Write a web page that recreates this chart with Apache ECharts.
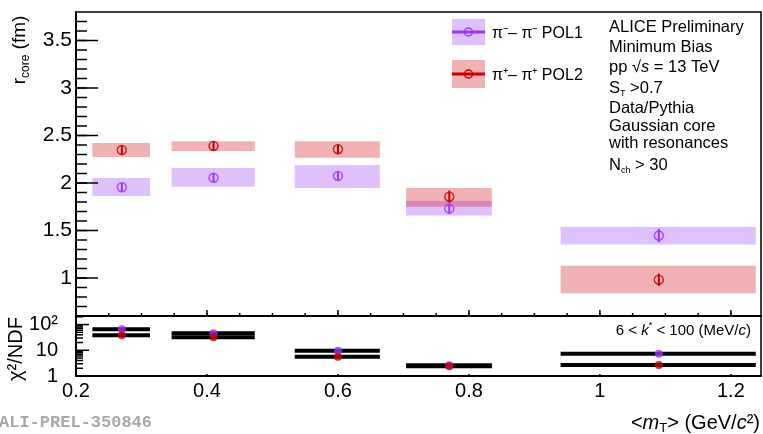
<!DOCTYPE html>
<html><head><meta charset="utf-8">
<script src="https://cdn.jsdelivr.net/npm/echarts@6/dist/echarts.min.js"></script>
<style>html,body{margin:0;padding:0;background:#fff}#c{width:763px;height:434px}</style>
</head><body><div id="c"></div>
<script>
// ---- data ----
const binLow  = [0.225, 0.346, 0.534, 0.704, 0.940];
const binHigh = [0.313, 0.473, 0.664, 0.835, 1.238];
const mT      = [0.27, 0.41, 0.60, 0.77, 1.09];
const rPol1        = [1.955, 2.056, 2.074, 1.730, 1.447];
const rPol1Stat    = [0.045, 0.045, 0.045, 0.050, 0.070];
const rPol1SysLow  = [1.864, 1.961, 1.948, 1.657, 1.353];
const rPol1SysHigh = [2.052, 2.157, 2.189, 1.811, 1.538];
const rPol2        = [2.347, 2.390, 2.356, 1.856, 0.982];
const rPol2Stat    = [0.050, 0.050, 0.050, 0.063, 0.065];
const rPol2SysLow  = [2.273, 2.336, 2.265, 1.751, 0.839];
const rPol2SysHigh = [2.420, 2.440, 2.440, 1.948, 1.129];
const chi2Pol1 = [65, 45.5, 9.6, 2.6, 7.3];
const chi2Pol2 = [38, 31.8, 5.6, 2.4, 2.7];
const legendNames = ['π⁻– π⁻ POL1', 'π⁺– π⁺ POL2'];
// ---- tick values ----
const topYMinorTicks = [0.7,0.8,0.9,1.0,1.1,1.2,1.3,1.4,1.5,1.6,1.7,1.8,1.9,2.0,2.1,2.2,2.3,2.4,2.5,2.6,2.7,2.8,2.9,3.0,3.1,3.2,3.3,3.4,3.5,3.6,3.7];
const topYMajorTicks = [1, 1.5, 2, 2.5, 3, 3.5];
const topXMinorTicks = [0.25,0.3,0.35,0.4,0.45,0.5,0.55,0.6,0.65,0.7,0.75,0.8,0.85,0.9,0.95,1.0,1.05,1.1,1.15,1.2];
const topXMajorTicks = [0.4, 0.6, 0.8, 1.0, 1.2];
const lowXTicks = [0.4, 0.6, 0.8, 1.0, 1.2];
const chi2MajorTicks = [10, 100];
const chi2MinorTicks = [2,3,4,5,6,7,8,9,20,30,40,50,60,70,80,90,200];

const PURPLE = '#9933ff', RED = '#cc0000';
const PURPLE_A = 'rgba(153,51,255,0.3)', RED_A = 'rgba(204,0,0,0.3)';
const FONT = 'Liberation Sans, Arial, Helvetica, sans-serif';
const X_MIN = 0.2, X_MAX = 1.246, Y_MIN = 0.6, Y_MAX = 3.8, C_MIN = 1, C_MAX = 215;

const chart = echarts.init(document.getElementById('c'), null, {renderer: 'canvas'});

function boxSeries(lo, hi, color) {
  return {
    type: 'custom', xAxisIndex: 0, yAxisIndex: 0, silent: true,
    data: binLow.map((x, i) => [binLow[i], binHigh[i], lo[i], hi[i]]),
    encode: {x: [0, 1], y: [2, 3]},
    renderItem: (p, api) => {
      const a = api.coord([api.value(0), api.value(3)]);
      const b = api.coord([api.value(1), api.value(2)]);
      return {type: 'rect', shape: {x: a[0], y: a[1], width: b[0] - a[0], height: b[1] - a[1]}, style: {fill: color}};
    }
  };
}
function errSeries(v, e, color) {
  return {
    type: 'custom', xAxisIndex: 0, yAxisIndex: 0, silent: true,
    data: mT.map((x, i) => [x, v[i], e[i]]),
    encode: {x: 0, y: 1},
    renderItem: (p, api) => {
      const a = api.coord([api.value(0), api.value(1) - api.value(2)]);
      const b = api.coord([api.value(0), api.value(1) + api.value(2)]);
      return {type: 'line', shape: {x1: a[0], y1: a[1], x2: b[0], y2: b[1]}, style: {stroke: color, lineWidth: 2}};
    }
  };
}
function pointSeries(v, color) {
  return {
    type: 'scatter', xAxisIndex: 0, yAxisIndex: 0, silent: true,
    data: mT.map((x, i) => [x, v[i]]),
    symbol: 'circle', symbolSize: 9,
    itemStyle: {color: 'transparent', borderColor: color, borderWidth: 1.5}
  };
}
function chiLineSeries(v) {
  return {
    type: 'custom', xAxisIndex: 1, yAxisIndex: 1, silent: true,
    data: binLow.map((x, i) => [binLow[i], binHigh[i], v[i]]),
    encode: {x: [0, 1], y: 2},
    renderItem: (p, api) => {
      const a = api.coord([api.value(0), api.value(2)]);
      const b = api.coord([api.value(1), api.value(2)]);
      return {type: 'line', shape: {x1: a[0], y1: a[1], x2: b[0], y2: b[1]}, style: {stroke: '#000', lineWidth: 4}};
    }
  };
}
function chiDotSeries(v, color) {
  return {
    type: 'scatter', xAxisIndex: 1, yAxisIndex: 1, silent: true,
    data: mT.map((x, i) => [x, v[i]]),
    symbol: 'circle', symbolSize: 8, itemStyle: {color: color}
  };
}
// axis tick marks, placed through the axes' own scales
function yTickSeries(axisIdx, xmin, vals, len) {
  return {
    type: 'custom', xAxisIndex: axisIdx, yAxisIndex: axisIdx, silent: true, z: 6, clip: false,
    data: vals.map(v => [xmin, v]), encode: {x: 0, y: 1},
    renderItem: (p, api) => {
      const a = api.coord([api.value(0), api.value(1)]);
      return {type: 'line', shape: {x1: a[0], y1: a[1], x2: a[0] + len, y2: a[1]}, style: {stroke: '#000', lineWidth: 1.5}};
    }
  };
}
function xTickSeries(axisIdx, ymin, vals, len) {
  return {
    type: 'custom', xAxisIndex: axisIdx, yAxisIndex: axisIdx, silent: true, z: 6, clip: false,
    data: vals.map(v => [v, ymin]), encode: {x: 0, y: 1},
    renderItem: (p, api) => {
      const a = api.coord([api.value(0), api.value(1)]);
      return {type: 'line', shape: {x1: a[0], y1: a[1], x2: a[0], y2: a[1] - len}, style: {stroke: '#000', lineWidth: 1.5}};
    }
  };
}

const halfFmt = v => (Math.abs(v * 2 - Math.round(v * 2)) < 1e-6 ? String(+v.toFixed(1)) : '');
const axisLine = () => ({show: true, lineStyle: {color: '#000', width: 2}});

function txt(x, y, text, opts) {
  opts = opts || {};
  return Object.assign({
    type: 'text', x: x, y: y, silent: true,
    style: Object.assign({
      text: text, font: (opts.size || 16) + 'px ' + FONT, fill: opts.color || '#000',
      align: opts.align || 'left', verticalAlign: 'middle',
      textAlign: opts.align || 'left', textVerticalAlign: 'middle',
      rich: opts.rich
    }, opts.style || {})
  }, opts.el || {});
}
const richSub = (fs, sfs) => ({
  n: {fontSize: fs, fontFamily: FONT, lineHeight: fs + 4, verticalAlign: 'middle'},
  i: {fontSize: fs, fontFamily: FONT, fontStyle: 'italic', lineHeight: fs + 4, verticalAlign: 'middle'},
  s: {fontSize: sfs, fontFamily: FONT, lineHeight: sfs, verticalAlign: 'bottom'},
  u: {fontSize: sfs, fontFamily: FONT, lineHeight: sfs, verticalAlign: 'top'}
});

const option = {
  animation: false,
  backgroundColor: '#fff',
  grid: [
    {left: 76, top: 12, right: 2, height: 304, show: true, borderColor: '#000', borderWidth: 1.5, backgroundColor: 'transparent'},
    {left: 76, top: 316, right: 2, height: 60, show: true, borderColor: '#000', borderWidth: 1.5, backgroundColor: 'transparent'}
  ],
  xAxis: [
    {gridIndex: 0, type: 'value', min: X_MIN, max: X_MAX, interval: 0.05, position: 'bottom',
     axisLine: axisLine(), axisTick: {show: false}, axisLabel: {show: false}, splitLine: {show: false}},
    {gridIndex: 1, type: 'value', min: X_MIN, max: X_MAX, interval: 0.2, position: 'bottom',
     axisLine: axisLine(), axisTick: {show: false},
     axisLabel: {color: '#000', fontSize: 20, fontFamily: FONT, margin: 5, showMaxLabel: false},
     splitLine: {show: false}}
  ],
  yAxis: [
    {gridIndex: 0, type: 'value', min: Y_MIN, max: Y_MAX, interval: 0.1, position: 'left',
     axisLine: axisLine(), axisTick: {show: false},
     axisLabel: {color: '#000', fontSize: 21, fontFamily: FONT, margin: 4, formatter: halfFmt},
     splitLine: {show: false}},
    {gridIndex: 1, type: 'log', logBase: 10, min: C_MIN, max: C_MAX, position: 'left',
     axisLine: axisLine(), axisTick: {show: false},
     axisLabel: {color: '#000', fontSize: 20, fontFamily: FONT, margin: 18,
       formatter: v => (Math.abs(v - 100) < 1e-6 ? '10²' : Math.abs(v - 10) < 1e-6 ? '10' : Math.abs(v - 1) < 1e-6 ? '1' : '')},
     splitLine: {show: false}}
  ],
  series: [
    boxSeries(rPol1SysLow, rPol1SysHigh, PURPLE_A),
    boxSeries(rPol2SysLow, rPol2SysHigh, RED_A),
    errSeries(rPol1, rPol1Stat, PURPLE),
    pointSeries(rPol1, PURPLE),
    errSeries(rPol2, rPol2Stat, RED),
    pointSeries(rPol2, RED),
    chiLineSeries(chi2Pol1),
    chiLineSeries(chi2Pol2),
    chiDotSeries(chi2Pol1, PURPLE),
    chiDotSeries(chi2Pol2, RED),
    yTickSeries(0, X_MIN, topYMinorTicks, 11),
    yTickSeries(0, X_MIN, topYMajorTicks, 22),
    xTickSeries(0, Y_MIN, topXMinorTicks, 3),
    xTickSeries(0, Y_MIN, topXMajorTicks, 6),
    xTickSeries(1, C_MIN, lowXTicks, 2),
    yTickSeries(1, X_MIN, chi2MajorTicks, 13),
    yTickSeries(1, X_MIN, chi2MinorTicks, 7)
  ],
  graphic: [
    // legend
    {type: 'rect', shape: {x: 452, y: 19, width: 33, height: 26}, style: {fill: PURPLE_A}, silent: true},
    {type: 'line', shape: {x1: 452, y1: 32, x2: 485, y2: 32}, style: {stroke: PURPLE, lineWidth: 3}, silent: true},
    {type: 'circle', shape: {cx: 468.5, cy: 32, r: 4}, style: {stroke: PURPLE, fill: 'none', lineWidth: 1.5}, silent: true},
    {type: 'rect', shape: {x: 452, y: 60, width: 33, height: 28}, style: {fill: RED_A}, silent: true},
    {type: 'line', shape: {x1: 452, y1: 74, x2: 485, y2: 74}, style: {stroke: RED, lineWidth: 3}, silent: true},
    {type: 'circle', shape: {cx: 468.5, cy: 74, r: 4}, style: {stroke: RED, fill: 'none', lineWidth: 1.5}, silent: true},
    txt(492, 34, legendNames[0], {size: 16}),
    txt(492, 76, legendNames[1], {size: 16}),
    // right text block
    txt(609, 27, 'ALICE Preliminary', {size: 16.5}),
    txt(609, 47, 'Minimum Bias', {size: 16.5}),
    txt(609, 67, '{n|pp √}{i|s}{n| = 13 TeV}', {size: 16.5, rich: richSub(16.5, 10)}),
    txt(609, 88, '{n|S}{s|T}{n| >0.7}', {size: 16.5, rich: richSub(16.5, 9)}),
    txt(609, 108, 'Data/Pythia', {size: 16.5}),
    txt(609, 126, 'Gaussian core', {size: 16.5}),
    txt(609, 143, 'with resonances', {size: 16.5}),
    txt(609, 165, '{n|N}{s|ch}{n| > 30}', {size: 16.5, rich: richSub(16.5, 9)}),
    // k* range
    txt(751, 331, '{n|6 < }{i|k}{u|*}{n| < 100 (MeV/}{i|c}{n|)}', {size: 15, align: 'right', rich: richSub(15, 9)}),
    // axis titles
    txt(20, 50, '{n|r}{s|core}{n| (fm)}', {size: 19, align: 'center', rich: richSub(19, 12), el: {rotation: Math.PI / 2}}),
    txt(16, 349, 'χ²/NDF', {size: 20, align: 'center', el: {rotation: Math.PI / 2}}),
    txt(760, 423, '{n|<}{i|m}{s|T}{n|> (GeV/}{i|c}{n|²)}', {size: 20, align: 'right', rich: richSub(20, 13)}),
    // watermark
    {type: 'text', x: -1, y: 423, silent: true,
     style: {text: 'ALI-PREL-350846', font: 'bold 17px Liberation Mono, DejaVu Sans Mono, monospace', fill: '#a8a8a8',
       align: 'left', verticalAlign: 'middle', textAlign: 'left', textVerticalAlign: 'middle'}}
  ]
};
chart.setOption(option);
</script></body></html>
